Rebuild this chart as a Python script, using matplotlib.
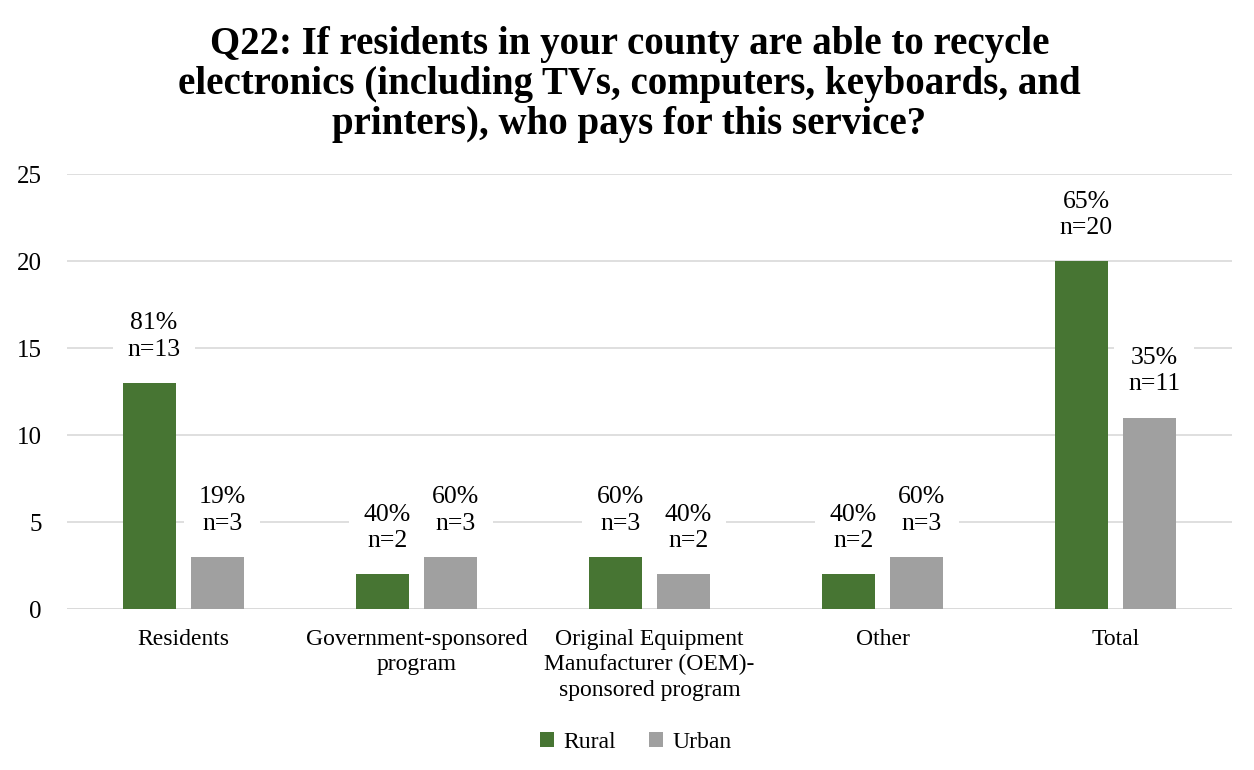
import matplotlib.pyplot as plt
import numpy as np

plt.rcParams['font.family'] = ['Liberation Serif', 'DejaVu Serif']

# -- Data --
categories = ['Residents', 'Government-sponsored\nprogram',
              'Original Equipment\nManufacturer (OEM)-\nsponsored program',
              'Other', 'Total']
rural = [13, 2, 3, 2, 20]
urban = [3, 3, 2, 3, 11]
rural_pct = ['81%', '40%', '60%', '40%', '65%']
urban_pct = ['19%', '60%', '40%', '60%', '35%']

green = '#477533'
grey = '#a0a0a0'

fig = plt.figure(figsize=(12.54, 7.7), dpi=100)
ax = fig.add_axes([0.0534, 0.209, 0.929, 0.565])

x = np.arange(len(categories))
w = 0.227
off = 0.146
bars_r = ax.bar(x - off, rural, w, color=green, label='Rural', zorder=3)
bars_u = ax.bar(x + off, urban, w, color=grey, label='Urban', zorder=3)

# value labels: share + count, white box hides the gridline behind
for bars, vals, pcts in [(bars_r, rural, rural_pct), (bars_u, urban, urban_pct)]:
    for b, v, p in zip(bars, vals, pcts):
        ax.annotate(f'{p}\nn={v}', (b.get_x() + b.get_width() / 2 + 0.02, v),
                    xytext=(0, 16), textcoords='offset points',
                    ha='center', va='bottom', fontsize=18.5, linespacing=1.25,
                    bbox=dict(boxstyle='square,pad=0.55', facecolor='white',
                              edgecolor='none'), zorder=2)

ax.set_xlim(-0.5, len(categories) - 0.5)
ax.set_ylim(0, 25)
ax.set_yticks(range(0, 26, 5))
ax.set_xticks(x)
ax.set_xticklabels(categories, fontsize=17, linespacing=1.28)
ax.tick_params(axis='y', labelsize=18, length=0, pad=18)
ax.tick_params(axis='x', length=0, pad=14)
ax.grid(axis='y', color='#d9d9d9', linewidth=1.2, zorder=0)
for s in ax.spines.values():
    s.set_visible(False)
ax.axhline(0, color='#d9d9d9', linewidth=1.2, zorder=1)

fig.suptitle('Q22: If residents in your county are able to recycle\n'
             'electronics (including TVs, computers, keyboards, and\n'
             'printers), who pays for this service?',
             fontsize=28, fontweight='bold', x=0.502, y=0.966, linespacing=1.1)

fig.legend(handles=[bars_r, bars_u], loc='lower center', ncol=2, frameon=False,
           fontsize=17, bbox_to_anchor=(0.507, -0.005), handlelength=0.6,
           handleheight=0.6, handletextpad=0.4, columnspacing=1.4)

fig.savefig('out.png', dpi=100)
